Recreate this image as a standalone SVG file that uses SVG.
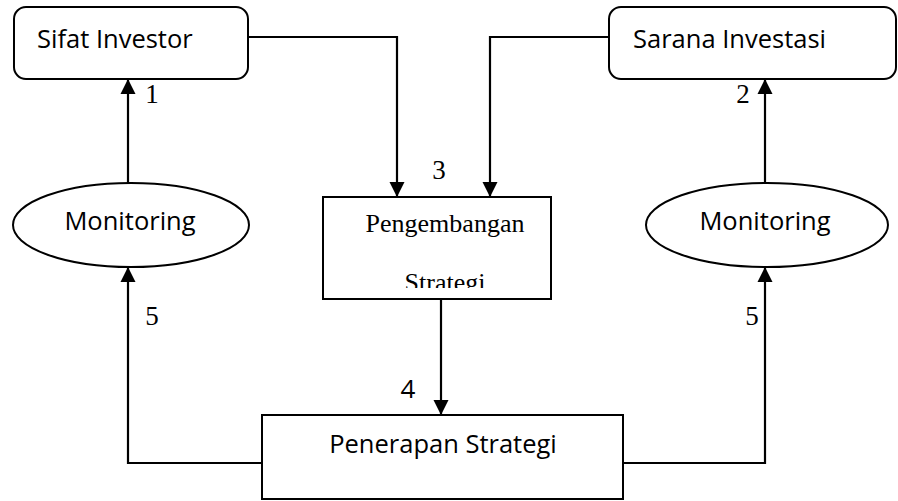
<svg xmlns="http://www.w3.org/2000/svg" width="898" height="501" viewBox="0 0 898 501">
<style>
.box{fill:#fff;stroke:#000;stroke-width:2}
.sans{font-family:"Open Sans","Liberation Sans",sans-serif;font-size:25.5px;fill:#000}
.serif{font-family:"Liberation Serif","Times New Roman",serif;font-size:27px;fill:#000}
.conn{fill:none;stroke:#000;stroke-width:2.2}
</style>
<defs>
<marker id="arr" markerUnits="userSpaceOnUse" markerWidth="16" markerHeight="16" viewBox="0 0 16 16" refX="15" refY="8" orient="auto">
<path d="M0,0.5 L15,8 L0,15.5 z" fill="#000"/>
</marker>
<clipPath id="pclip"><rect x="323" y="197" width="228" height="91"/></clipPath>
</defs>
<rect width="898" height="501" fill="#fff"/>
<g id="connectors">
<polyline class="conn" points="248,37 397,37 397,197" marker-end="url(#arr)"/>
<polyline class="conn" points="609,37 490,37 490,197" marker-end="url(#arr)"/>
<polyline class="conn" points="441,299 441,415" marker-end="url(#arr)"/>
<polyline class="conn" points="262,463 128,463 128,267" marker-end="url(#arr)"/>
<polyline class="conn" points="623,463 765,463 765,267" marker-end="url(#arr)"/>
<polyline class="conn" points="128,183 128,79" marker-end="url(#arr)"/>
<polyline class="conn" points="765,183 765,79" marker-end="url(#arr)"/>
<text class="serif" x="152" y="103" text-anchor="middle">1</text>
<text class="serif" x="743" y="103" text-anchor="middle">2</text>
<text class="serif" x="439" y="179" text-anchor="middle">3</text>
<text class="sans" x="408" y="398" text-anchor="middle" style="font-size:26px">4</text>
<text class="serif" x="152" y="325" text-anchor="middle">5</text>
<text class="serif" x="752" y="325" text-anchor="middle">5</text>
</g>
<g id="sifat">
<rect class="box" x="14" y="7" width="234" height="72" rx="12"/>
<text class="sans" x="37" y="48">Sifat Investor</text>
</g>
<g id="sarana">
<rect class="box" x="609" y="7" width="287" height="72" rx="12"/>
<text class="sans" x="633" y="48">Sarana Investasi</text>
</g>
<g id="monitoring-left">
<ellipse class="box" cx="131" cy="225" rx="118" ry="42"/>
<text class="sans" x="130" y="230" text-anchor="middle">Monitoring</text>
</g>
<g id="monitoring-right">
<ellipse class="box" cx="767" cy="225" rx="121" ry="42"/>
<text class="sans" x="765" y="230" text-anchor="middle">Monitoring</text>
</g>
<g id="pengembangan">
<rect class="box" x="323" y="197" width="228" height="102"/>
<g clip-path="url(#pclip)">
<text class="serif" x="445" y="232" text-anchor="middle" style="font-size:26px">Pengembangan</text>
<text class="serif" x="445" y="291" text-anchor="middle" style="font-size:26px">Strategi</text>
</g>
</g>
<g id="penerapan">
<rect class="box" x="262" y="415" width="361" height="84"/>
<text class="sans" x="443" y="453" text-anchor="middle">Penerapan Strategi</text>
</g>
</svg>
